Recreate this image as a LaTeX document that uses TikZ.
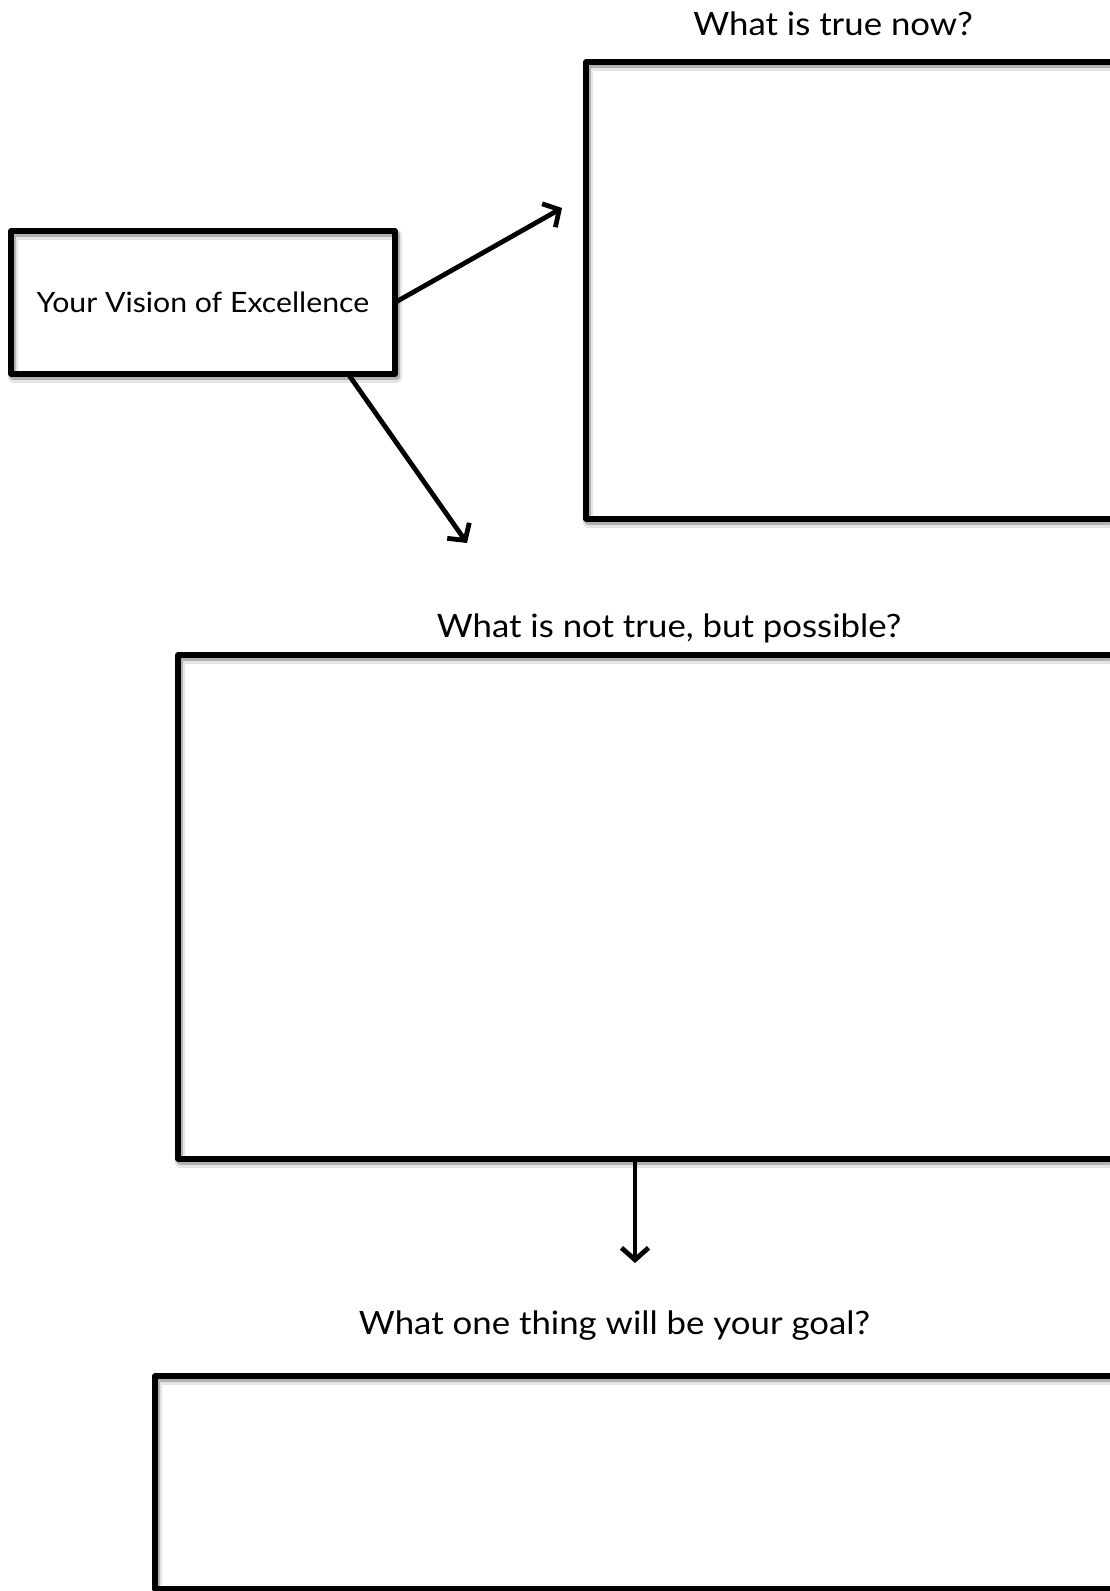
\documentclass[tikz,border=0pt]{standalone}
\usepackage{fontspec}
\setmainfont{Lato}[FakeStretch=1.08]
\usetikzlibrary{arrows.meta,calc}
\begin{document}
\begin{tikzpicture}[x=1pt,y=-1pt,
  boxline/.style={draw=black, line width=5.2pt, inner sep=0pt, outer sep=0pt, line join=round,
    preaction={draw=black, draw opacity=0.10, line width=10pt, transform canvas={shift={(2pt,-4pt)}}},
    preaction={draw=black, draw opacity=0.22, line width=6pt, transform canvas={shift={(1.5pt,-3pt)}}}},
  title/.style={anchor=base, inner sep=0pt, font=\fontsize{32.2}{38}\selectfont},
  conn/.style={line width=4.8pt, -{Straight Barb[length=12pt, width=27pt, line width=4.8pt]}, line cap=round}
]
\useasboundingbox (0,0) rectangle (1109,1591);
\fill[white] (0,0) rectangle (1109,1591);
% boxes
\node[boxline, minimum width=384pt, minimum height=143pt, font=\fontsize{28}{34}\selectfont] (vision) at (203,302.5) {Your Vision of Excellence};
\node[boxline, minimum width=560pt, minimum height=457pt] (now) at (866,290.5) {};
\node[boxline, minimum width=968pt, minimum height=504pt] (possible) at (662,907) {};
\node[boxline, minimum width=991pt, minimum height=213pt] (goal) at (650.5,1482.5) {};
% titles
\node[title] (tnow) at (833,35) {What is true now?};
\node[title] (tpossible) at (669,637) {What is not true, but possible?};
\node[title] (tgoal) at (614.5,1334) {What one thing will be your goal?};
% connector ends
\coordinate (tipA) at (562,208);
\coordinate (tipB) at (467,543);
\coordinate (tipC) at (635,1263);
\draw[conn] (vision.east) -- (tipA);
\draw[conn] ($(vision.south west)!0.878!(vision.south east)$) -- (tipB);
\draw[conn] (possible.south -| tipC) -- (tipC);
\end{tikzpicture}
\end{document}
